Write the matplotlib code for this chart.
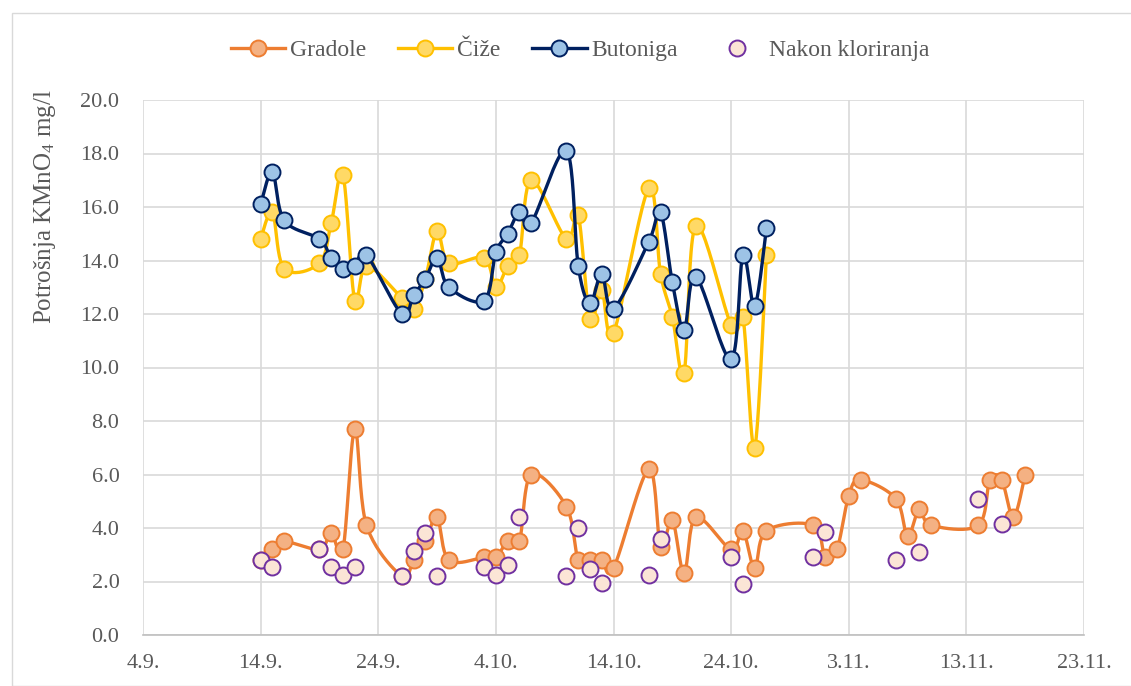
import datetime as dt
import numpy as np
import matplotlib
matplotlib.use("Agg")
import matplotlib.pyplot as plt
import matplotlib.dates as mdates
from matplotlib.lines import Line2D
from matplotlib.patches import Rectangle

YEAR = 2021

# dates (d.m.) and values
g_dates = ["14.9.", "15.9.", "16.9.", "19.9.", "20.9.", "21.9.", "22.9.", "23.9.",
           "26.9.", "27.9.", "28.9.", "29.9.", "30.9.", "3.10.", "4.10.", "5.10.",
           "6.10.", "7.10.", "10.10.", "11.10.", "12.10.", "13.10.", "14.10.",
           "17.10.", "18.10.", "19.10.", "20.10.", "21.10.", "24.10.", "25.10.",
           "26.10.", "27.10.", "31.10.", "1.11.", "2.11.", "3.11.", "4.11.",
           "7.11.", "8.11.", "9.11.", "10.11.", "14.11.", "15.11.", "16.11.",
           "17.11.", "18.11."]
gradole = [2.8, 3.2, 3.5, 3.2, 3.8, 3.2, 7.7, 4.1,
           2.2, 2.8, 3.5, 4.4, 2.8, 2.9, 2.9, 3.5,
           3.5, 6.0, 4.8, 2.8, 2.8, 2.8, 2.5,
           6.2, 3.3, 4.3, 2.3, 4.4, 3.2, 3.9,
           2.5, 3.9, 4.1, 2.9, 3.2, 5.2, 5.8,
           5.1, 3.7, 4.7, 4.1, 4.1, 5.8, 5.8,
           4.4, 6.0]

cb_dates = ["14.9.", "15.9.", "16.9.", "19.9.", "20.9.", "21.9.", "22.9.", "23.9.",
            "26.9.", "27.9.", "28.9.", "29.9.", "30.9.", "3.10.", "4.10.", "5.10.",
            "6.10.", "7.10.", "10.10.", "11.10.", "12.10.", "13.10.", "14.10.",
            "17.10.", "18.10.", "19.10.", "20.10.", "21.10.", "24.10.", "25.10.",
            "26.10.", "27.10."]
cize = [14.8, 15.8, 13.7, 13.9, 15.4, 17.2, 12.5, 13.8,
        12.6, 12.2, 13.3, 15.1, 13.9, 14.1, 13.0, 13.8,
        14.2, 17.0, 14.8, 15.7, 11.8, 12.9, 11.3,
        16.7, 13.5, 11.9, 9.8, 15.3, 11.6, 11.9,
        7.0, 14.2]
butoniga = [16.1, 17.3, 15.5, 14.8, 14.1, 13.7, 13.8, 14.2,
            12.0, 12.7, 13.3, 14.1, 13.0, 12.5, 14.3, 15.0,
            15.8, 15.4, 18.1, 13.8, 12.4, 13.5, 12.2,
            14.7, 15.8, 13.2, 11.4, 13.4, 10.3, 14.2,
            12.3, 15.2]

k_dates = ["14.9.", "15.9.", "19.9.", "20.9.", "21.9.", "22.9.", "26.9.", "27.9.",
           "28.9.", "29.9.", "3.10.", "4.10.", "5.10.", "6.10.", "10.10.", "11.10.",
           "12.10.", "13.10.", "17.10.", "18.10.", "24.10.", "25.10.", "31.10.",
           "1.11.", "7.11.", "9.11.", "14.11.", "16.11."]
klor = [2.8, 2.55, 3.2, 2.55, 2.25, 2.55, 2.2, 3.15,
        3.8, 2.2, 2.55, 2.25, 2.6, 4.4, 2.2, 4.0,
        2.45, 1.95, 2.25, 3.6, 2.9, 1.9, 2.9,
        3.85, 2.8, 3.1, 5.1, 4.15]

x_ticks = ["4.9.", "14.9.", "24.9.", "4.10.", "14.10.", "24.10.", "3.11.", "13.11.", "23.11."]


def to_num(labels):
    out = []
    for s in labels:
        d, m = s.strip(".").split(".")
        out.append(mdates.date2num(dt.date(YEAR, int(m), int(d))))
    return np.array(out)


def smooth(x, y, sx, sy, n=24):
    # bezier smoothing like the spreadsheet "smoothed line", done in pixel-like units
    P = np.column_stack([np.asarray(x) * sx, np.asarray(y) * sy])
    segs = []
    t = np.linspace(0, 1, n)[:, None]
    for i in range(len(P) - 1):
        p0 = P[i - 1] if i > 0 else P[i]
        p1, p2 = P[i], P[i + 1]
        p3 = P[i + 2] if i + 2 < len(P) else P[i + 1]
        b1 = p1 + (p2 - p0) / 6
        b2 = p2 - (p3 - p1) / 6
        seg = (1 - t) ** 3 * p1 + 3 * (1 - t) ** 2 * t * b1 + 3 * (1 - t) * t ** 2 * b2 + t ** 3 * p2
        segs.append(seg if i == 0 else seg[1:])
    S = np.vstack(segs)
    return S[:, 0] / sx, S[:, 1] / sy


plt.rcParams['font.family'] = ['Liberation Serif', 'DejaVu Serif']
plt.rcParams['mathtext.fontset'] = 'custom'
plt.rcParams['mathtext.rm'] = 'Liberation Serif'
plt.rcParams['mathtext.it'] = 'Liberation Serif:italic'
TXT = '#595959'

fig = plt.figure(figsize=(11.31, 6.86), dpi=100)
ax = fig.add_axes([143 / 1131, 1 - 635 / 686, (1084 - 143) / 1131, (635 - 100) / 686])

fig.patches.append(Rectangle((12 / 1131, 0), 1.2, 1 - 13 / 686, transform=fig.transFigure,
                             fill=False, edgecolor='#D9D9D9', linewidth=1.0, zorder=0))

xt = to_num(x_ticks)
sx = 11.77  # px per day
sy = 26.75  # px per unit

series = [
    ("Gradole", to_num(g_dates), gradole, '#ED7D31', '#F4B183', '#ED7D31'),
    ("Čiže", to_num(cb_dates), cize, '#FFC000', '#FFD966', '#FFC000'),
    ("Butoniga", to_num(cb_dates), butoniga, '#002060', '#9DC3E6', '#002060'),
]
handles = []
for z, (name, xs, ys, lc, fc, ec) in enumerate(series):
    lx, ly = smooth(xs, ys, sx, sy)
    ax.plot(lx, ly, color=lc, lw=2.4, zorder=3 + z, solid_capstyle='round')
    ax.plot(xs, ys, 'o', ms=11.5, mfc=fc, mec=ec, mew=1.4, zorder=3 + z, ls='none')
    handles.append(Line2D([], [], color=lc, lw=2.4, marker='o', ms=11.5, mfc=fc, mec=ec, mew=1.4))

ax.plot(to_num(k_dates), klor, 'o', ms=11.5, mfc='#FBE5D6', mec='#7030A0', mew=1.4, zorder=7, ls='none')
handles.append(Line2D([], [], ls='none', marker='o', ms=11.5, mfc='#FBE5D6', mec='#7030A0', mew=1.4))

ax.set_ylim(0, 20)
ax.set_yticks(np.arange(0, 20.1, 2))
ax.set_yticklabels([f"{v:.1f}" for v in np.arange(0, 20.1, 2)])
ax.set_xlim(xt[0], xt[-1])
ax.set_xticks(xt)
ax.set_xticklabels(x_ticks)
ax.grid(True, color='#D9D9D9', lw=1.2)
ax.set_axisbelow(True)
for s in ['top', 'right', 'left']:
    ax.spines[s].set_visible(False)
ax.spines['bottom'].set_color('#BFBFBF')
ax.spines['bottom'].set_linewidth(1.2)
ax.tick_params(axis='both', length=0, labelsize=16, colors=TXT)
ax.tick_params(axis='y', pad=17)
ax.tick_params(axis='x', pad=14)

fig.text(45 / 1131, 1 - 207 / 686, "Potrošnja KMnO$_4$ mg/l", rotation=90,
         ha='center', va='center', fontsize=18, color=TXT)

leg = fig.legend(handles, ["Gradole", "Čiže", "Butoniga", "Nakon kloriranja"],
                 loc='center', bbox_to_anchor=(580 / 1131, 1 - 50 / 686), ncol=4,
                 frameon=False, fontsize=17, handlelength=2.3, columnspacing=1.35,
                 handletextpad=0.2)
for t in leg.get_texts():
    t.set_color(TXT)

fig.savefig("out.png", dpi=100)
